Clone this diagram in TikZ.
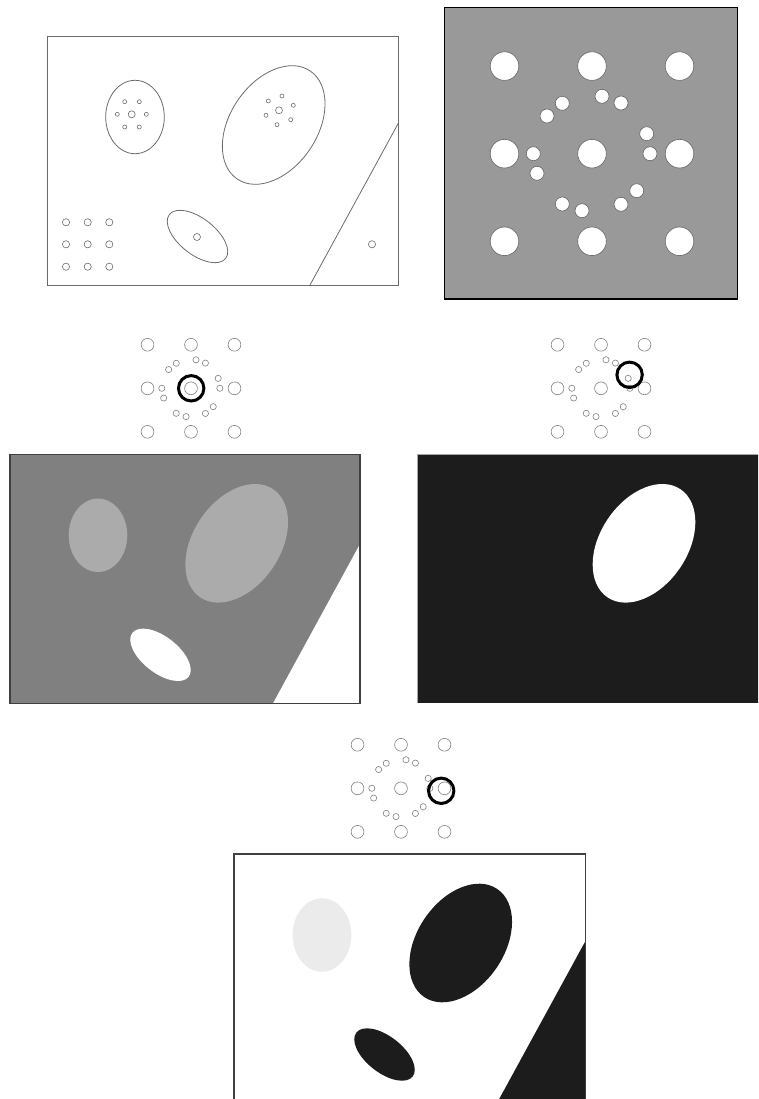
\documentclass[tikz,border=0pt]{standalone}
\definecolor{linegray}{gray}{0.42}
\definecolor{holeline}{gray}{0.40}
\definecolor{iconline}{gray}{0.50}
\definecolor{midgray}{gray}{0.50}
\definecolor{softgray}{gray}{0.67}
\definecolor{panelgray}{gray}{0.60}
\definecolor{nearblack}{gray}{0.11}
\definecolor{palegray}{gray}{0.92}
\definecolor{edgegray}{gray}{0.25}
\definecolor{thinedge}{gray}{0.65}

% scene shapes, relative to the upper left corner of a panel
\newcommand\scenepaths[4]{%
  \path[#1] (88,-81) ellipse [x radius=29.3, y radius=36.7];
  \path[#2, rotate around={56:(226.7,-89)}] (226.7,-89) ellipse [x radius=65.2, y radius=43.6];
  \path[#3, rotate around={-38:(150.5,-200.5)}] (150.5,-200.5) ellipse [x radius=35.7, y radius=18.1];
  \path[#4] (351.3,-87.3) -- (263,-249) -- (362,-249) -- (362,-87.3) -- cycle;
}

% hole pattern: #1 cx, #2 cy, #3 scale, #4 big radius, #5 small radius
\newcommand\holepattern[5]{%
  \begin{scope}[shift={(#1,-#2)}]
    \foreach \i in {-1,0,1}{\foreach \j in {-1,0,1}{
      \path[holestyle] ({\i*87.5*#3},{\j*87.6*#3}) circle [radius=#4];}}
    \foreach \dx/\dy in {-29.7/-50.4,-45/-37.7,10/-57.4,29/-50.7,54.7/-20,58/0,
                         -58.7/0,-55/19.6,-29.7/50.3,-10/57,29/50.6,44.7/37}{
      \path[holestyle] ({\dx*#3},{-\dy*#3}) circle [radius=#5];}
  \end{scope}}

\begin{document}
\begin{tikzpicture}[x=1pt,y=1pt,
  outline/.style={draw=linegray, line width=0.8pt},
  ring/.style={draw=black, line width=3pt}]
\useasboundingbox (0,0) rectangle (758,-1099);
\clip (0,0) rectangle (758,-1099);

% ---------- top left: outline drawing ----------
\begin{scope}[shift={(47,-36)}]
  \path[outline] (0,0) rectangle (351,-249);
  \path[outline] (88,-81) ellipse [x radius=29.3, y radius=36.7];
  \path[outline, rotate around={56:(226.7,-89)}] (226.7,-89) ellipse [x radius=65.2, y radius=43.6];
  \path[outline, rotate around={-38:(150.5,-200.5)}] (150.5,-200.5) ellipse [x radius=35.7, y radius=18.1];
  \coordinate (lt) at (351.3,-87.3);
  \coordinate (lb) at (263,-249);
  \draw[outline] (lt) -- (lb);
\end{scope}
\begin{scope}[every path/.style={draw=linegray, line width=0.6pt}]
  % dots in small ellipse
  \path (131.7,-114.3) circle [radius=3.5];
  \foreach \x/\y in {124.7/101.7,139.3/101.7,117.3/114.3,146.3/114.3,124.7/127,139.3/127}
    {\path (\x,-\y) circle [radius=2];}
  % dots in big ellipse
  \path (279,-110.3) circle [radius=3.5];
  \foreach \x/\y in {268.3/101,282/96,293.3/105.3,266/115.3,277/124.7,290.7/119.7}
    {\path (\x,-\y) circle [radius=2];}
  % dot in tilted ellipse
  \path (197,-237) circle [radius=3.5];
  % grid of dots
  \foreach \x in {66,87.7,109.3}{\foreach \y in {222.3,244.3,266.7}
    {\path (\x,-\y) circle [radius=3.6];}}
  % single dot
  \path (372,-244.3) circle [radius=3.6];
\end{scope}

% ---------- top right: hole plate ----------
\path[fill=panelgray, draw=black, line width=1.5pt] (444.7,-7.3) rectangle (737.7,-299);
\tikzset{holestyle/.style={fill=white, draw=holeline, line width=0.6pt}}
\holepattern{592}{153.7}{1}{14.3}{7}

% ---------- icons ----------
\tikzset{holestyle/.style={draw=iconline, line width=0.6pt}}
\holepattern{191}{388.3}{0.497}{6.4}{3.1}
\holepattern{601}{388.3}{0.497}{6.4}{3.1}
\holepattern{401}{788.3}{0.497}{6.4}{3.1}
\path[ring] (191.2,-388.3) circle [radius=12.7];
\path[ring] (629.6,-374.8) circle [radius=12.7];
\path[ring] (441.2,-790.8) circle [radius=12.7];

% ---------- middle left ----------
\begin{scope}[shift={(10,-454.3)}]
  \begin{scope}
    \clip (0,0) rectangle (350,-249);
    \fill[midgray] (0,0) rectangle (350,-249);
    \scenepaths{fill=softgray}{fill=softgray}{fill=white}{fill=white}
  \end{scope}
  \draw[edgegray, line width=1.3pt] (0,0) rectangle (350,-249);
\end{scope}

% ---------- middle right ----------
\begin{scope}[shift={(417.3,-454.3)}]
  \fill[nearblack] (0,0) rectangle (345,-249);
  \draw[thinedge, line width=0.8pt] (0,-249) -- (0,0) -- (345,0);
  \path[fill=white, rotate around={56:(226.7,-89)}] (226.7,-89) ellipse [x radius=65.2, y radius=43.6];
\end{scope}

% ---------- bottom ----------
\begin{scope}[shift={(234,-854)}]
  \begin{scope}
    \clip (0,0) rectangle (351.3,-250);
    \fill[white] (0,0) rectangle (351.3,-250);
    \scenepaths{fill=palegray}{fill=nearblack}{fill=nearblack}{fill=nearblack}
  \end{scope}
  \draw[edgegray, line width=1.5pt] (0,-252) -- (0,0) -- (351.3,0) -- (351.3,-252);
\end{scope}
\end{tikzpicture}
\end{document}
